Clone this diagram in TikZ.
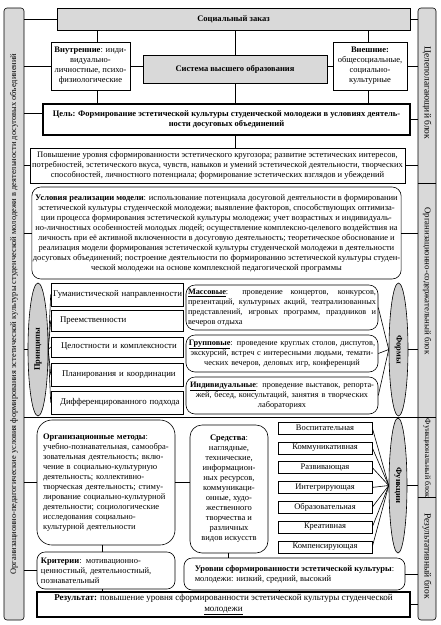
\documentclass[tikz,border=0pt]{standalone}
\usepackage{fontspec}
\setmainfont{Liberation Serif}
\usepackage{graphicx}
\usetikzlibrary{shapes.geometric}
\definecolor{barGray}{HTML}{D9D9D9}
\definecolor{ovalGray}{HTML}{CFCFCF}
\newcommand{\txt}{\fontsize{8.5}{10}\selectfont}
\newcommand{\bartxt}[1]{\fontsize{#1}{10}\selectfont}

\begin{document}
\begin{tikzpicture}[x=1pt,y=-1pt,font=\txt,
    box/.style={draw,line width=0.6pt,inner sep=1pt,align=center},
    graybox/.style={box,fill=barGray,font=\txt\bfseries},
    rbox/.style={box,rounded corners=9pt},
    pbox/.style={box,minimum width=132pt,text width=128pt,inner xsep=2pt,align=left,font=\fontsize{8.8}{10}\selectfont},
    fbox/.style={rbox,minimum width=192pt,text width=188pt,inner xsep=2pt,font=\fontsize{8.3}{10}\selectfont},
    funbox/.style={box,minimum width=94pt,minimum height=12pt,inner sep=0pt},
    oval/.style={draw,ellipse,fill=ovalGray,inner sep=0pt,line width=0.6pt,font=\txt\bfseries},
    bar/.style={draw,fill=barGray,rounded corners=3pt,line width=0.6pt,inner sep=0pt},
    link/.style={draw,line width=0.6pt}]
  \useasboundingbox (0,0) rectangle (440,625);

  % side blocks
  \node[bar,minimum width=20pt,minimum height=612pt] (lbar) at (14,314)
    {\rotatebox{90}{\bartxt{8.4}Организационно-педагогические условия формирования эстетической культуры студенческой молодежи в деятельности досуговых объединений}};
  \node[bar,minimum width=18pt,minimum height=612pt] (rbar) at (427,314) {};
  \draw[link] (rbar.west |- 0,183) -- (rbar.east |- 0,183);
  \draw[link] (rbar.west |- 0,417) -- (rbar.east |- 0,417);
  \draw[link] (rbar.west |- 0,497) -- (rbar.east |- 0,497);
  \node (blkCel) at (427,93) {\rotatebox{-90}{\bartxt{9.5}Целеполагающий блок}};
  \node (blkOrg) at (427,281) {\rotatebox{-90}{\bartxt{8.8}Организационно-содержательный блок}};
  \node (blkFun) at (427,458) {\rotatebox{-90}{\bartxt{8}Функциональный блок}};
  \node (blkRes) at (427,556) {\rotatebox{-90}{\bartxt{9.5}Результативный блок}};

  % goal block
  \node[graybox,minimum width=353pt,minimum height=22pt] (soc) at (233.5,19) {Социальный заказ};
  \node[box,minimum width=79pt,minimum height=48pt] (vnutr) at (90.5,66)
    {\textbf{Внутренние}: инди-\\видуально-\\личностные, психо-\\физиологические};
  \node[graybox,minimum width=184pt,minimum height=28pt] (sys) at (235,69) {Система высшего образования};
  \node[box,minimum width=74pt,minimum height=48pt] (vnesh) at (370,66)
    {\textbf{Внешние:}\\общесоциальные,\\социально-\\культурные};
  \node[box,line width=1.3pt,minimum width=367pt,minimum height=31pt,font=\txt\bfseries] (cel) at (226.5,119.5)
    {Цель: Формирование эстетической культуры студенческой молодежи в условиях деятель-\\ности досуговых объединений};
  \node[box,minimum width=375pt,minimum height=35pt] (povysh) at (217.5,165.5)
    {Повышение уровня сформированности эстетического кругозора; развитие эстетических интересов,\\
     потребностей, эстетического вкуса, чувств, навыков и умений эстетической деятельности, творческих\\
     способностей, личностного потенциала; формирование эстетических взглядов и убеждений};

  % organisation block
  \node[rbox,minimum width=367pt,minimum height=92pt] (uslov) at (216.5,233)
    {\textbf{Условия реализации модели}: использование потенциала досуговой деятельности в формировании\\
     эстетической культуры студенческой молодежи; выявление факторов, способствующих оптимиза-\\
     ции процесса формирования эстетической культуры молодежи; учет возрастных и индивидуаль-\\
     но-личностных особенностей молодых людей; осуществление комплексно-целевого воздействия на\\
     личность при её активной включенности в досуговую деятельность; теоретическое обоснование и\\
     реализация модели формирования эстетической культуры студенческой молодежи в деятельности\\
     досуговых объединений; построение деятельности по формированию эстетической культуры студен-\\
     ческой молодежи на основе комплексной педагогической программы};

  \node[oval,minimum width=20pt,minimum height=133pt] (princ) at (38,349.5) {\rotatebox{90}{Принципы}};
  \node[pbox,minimum height=23pt] (p1) at (117,294.5) {\mbox{Гуманистической направленности}};
  \node[pbox,minimum height=21pt] (p2) at (117,320.5) {\hspace*{7pt}\mbox{Преемственности}};
  \node[pbox,minimum height=20pt] (p3) at (117,347) {\hspace*{8pt}\mbox{Целостности и комплексности}};
  \node[pbox,minimum height=23pt] (p4) at (117,374.5) {\hspace*{9pt}\mbox{Планирования и координации}};
  \node[pbox,minimum height=23pt] (p5) at (117,402.5) {\hspace*{7pt}\mbox{Дифференцированного подхода}};
  \foreach \p in {p1,p2,p3,p4,p5}
    {\draw[link] (\p.west) -- (princ.east);}

  \node[oval,minimum width=19pt,minimum height=133pt] (formy) at (398.5,349.5) {\rotatebox{-90}{Формы}};
  \node[fbox,minimum height=45pt,align=justify] (f1) at (282,307.5)
    {\underline{\textbf{Массовые}}: проведение концертов, конкурсов,\linebreak
     презентаций, культурных акций, театрализованных\linebreak
     представлений, игровых программ, праздников и\linebreak
     вечеров отдыха};
  \node[fbox,minimum height=37pt] (f2) at (282,353.5)
    {\underline{\textbf{Групповые}}: проведение круглых столов, диспутов,\\
     экскурсий, встреч с интересными людьми, темати-\\ческих вечеров, деловых игр, конференций};
  \node[fbox,minimum height=37pt] (f3) at (282,395.5)
    {\underline{\textbf{Индивидуальные}}: проведение выставок, репорта-\\
     жей, бесед, консультаций, занятия в творческих\\лабораториях};
  \foreach \f in {f1,f2,f3}
    {\draw[link] (\f.east) -- (formy.west);}

  \coordinate (sepL) at (24,417);
  \draw[link] (sepL) -- (sepL -| rbar.west);

  % functional block
  \node[rbox,rounded corners=15pt,minimum width=138pt,minimum height=125pt,text width=126pt,inner xsep=6pt,align=left] (metody) at (106,482.5)
    {\textbf{Организационные методы}:\\
     учебно-познавательная, самообра-\\
     зовательная деятельность; вклю-\\
     чение в социально-культурную\\
     деятельность; коллективно-\\
     творческая деятельность; стиму-\\
     лирование социально-культурной\\
     деятельности; социологические\\
     исследования социально-\\
     культурной деятельности};
  \node[rbox,rounded corners=12pt,minimum width=78pt,minimum height=128pt] (sredstva) at (229,489)
    {\textbf{Средства}:\\наглядные,\\технические,\\информацион-\\ных ресурсов,\\коммуникаци-\\онные, худо-\\жественного\\творчества и\\различных\\видов искусств};
  \node[oval,minimum width=18pt,minimum height=135pt] (funkcii) at (398,485.5) {\rotatebox{-90}{Функции}};
  \foreach \name [count=\i from 0] in {Воспитательная,Коммуникативная,Развивающая,Интегрирующая,Образовательная,Креативная,Компенсирующая}
    {\node[funbox] (fn\i) at (325,{428+19.8*\i}) {\name};
     \draw[link] (fn\i.east) -- (funkcii.west);}

  % result block
  \node[rbox,rounded corners=8pt,minimum width=138pt,minimum height=37pt,text width=130pt,inner xsep=4pt,align=left] (kriterii) at (106,570.5)
    {\textbf{Критерии}: мотивационно-\\ценностный, деятельностный,\\познавательный};
  \node[rbox,rounded corners=8pt,minimum width=221pt,minimum height=32pt,align=left] (urovni) at (294.5,574)
    {\textbf{Уровни сформированности эстетической культуры}:\\молодежи: низкий, средний, высокий};
  \node[box,line width=1.3pt,minimum width=373pt,minimum height=25pt,font=\fontsize{9}{10.5}\selectfont] (rezult) at (223.5,604.5)
    {\textbf{Результат:} повышение уровня сформированности эстетической культуры студенческой\\\underline{молодежи}};

  % connectors
  \draw[link] (soc.south -| 97,0) -- (vnutr.north -| 97,0);
  \draw[link] (soc.south -| sys.north) -- (sys.north);
  \draw[link] (soc.south -| 368,0) -- (vnesh.north -| 368,0);
  \draw[link] (vnutr.east) -- (vnutr.east -| sys.west);
  \draw[link] (vnesh.west -| sys.east) -- (vnesh.west);
  \draw[link] (vnutr.south -| 97,0) -- (cel.north -| 97,0);
  \draw[link] (sys.south) -- (sys.south |- cel.north);
  \draw[link] (vnesh.south -| 368,0) -- (cel.north -| 368,0);
  \draw[link] (cel.south -| sys.south) -- (povysh.north -| sys.south);
  \draw[link] (metody.east) -- (metody.east -| sredstva.west);
  \draw[link] (metody.south -| 102,0) -- (kriterii.north -| 102,0);
  \draw[link] (sredstva.south -| 228,0) -- (urovni.north -| 228,0);
  \draw[link] (kriterii.south -| 102,0) -- (rezult.north -| 102,0);
  \draw[link] (urovni.south -| 279,0) -- (rezult.north -| 279,0);
  \foreach \n in {soc,vnutr,povysh,uslov,princ,metody,kriterii}
    {\draw[link] (\n.west) -- (\n.west -| lbar.east);}
  \draw[link] (cel.west |- 0,113) -- (lbar.east |- 0,113);
  \foreach \n in {soc,vnesh,cel,povysh,uslov,formy,funkcii,urovni,rezult}
    {\draw[link] (\n.east) -- (\n.east -| rbar.west);}
\end{tikzpicture}
\end{document}
